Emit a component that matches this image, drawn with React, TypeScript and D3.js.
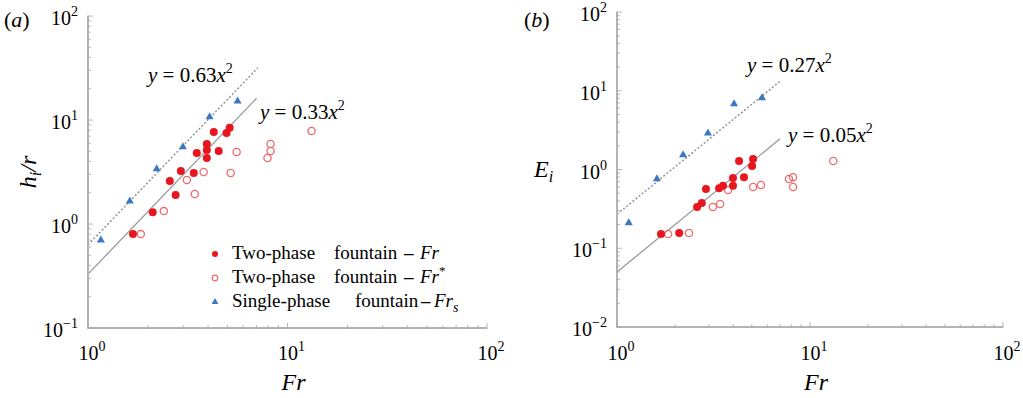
import React from 'react'
import * as d3 from 'd3'

// panel (a): h_i / r against Fr
const frTwoPhaseA = [1.68, 2.11, 2.57, 2.75, 2.92, 3.39, 3.51, 3.94, 3.94, 3.94, 4.27, 4.52, 4.95, 5.13]
const hTwoPhaseA = [0.8, 1.3, 2.59, 1.9, 3.23, 3.09, 4.82, 5.88, 5.15, 4.31, 7.67, 5.03, 7.5, 8.4]
const frStarA = [1.84, 2.4, 3.13, 3.43, 3.8, 5.19, 5.56, 7.94, 8.22, 8.22, 13.2]
const hStarA = [0.8, 1.33, 2.65, 1.94, 3.16, 3.09, 4.92, 4.31, 5.03, 5.88, 7.84]
const frSingleA = [1.16, 1.62, 2.21, 2.99, 4.07, 5.62]
const hSingleA = [0.7, 1.66, 3.38, 5.5, 10.7, 15.2]

// panel (b): E_i against Fr
const frTwoPhaseB = [1.69, 2.1, 2.6, 2.75, 2.89, 3.38, 3.54, 3.99, 3.99, 4.29, 4.55, 5.01, 5.07]
const eTwoPhaseB = [0.152, 0.156, 0.334, 0.376, 0.565, 0.58, 0.62, 0.78, 0.62, 1.28, 0.8, 1.11, 1.36]
const frStarB = [1.84, 2.36, 3.14, 3.42, 3.76, 5.07, 5.57, 7.78, 8.17, 8.17, 13.2]
const eStarB = [0.152, 0.156, 0.334, 0.365, 0.55, 0.6, 0.635, 0.757, 0.8, 0.6, 1.28]
const frSingleB = [1.15, 1.61, 2.2, 2.96, 4.04, 5.64]
const eSingleB = [0.21, 0.76, 1.53, 2.9, 6.79, 8.09]

// fitted power laws y = c x^2
const fitCoefA = [0.63, 0.33]
const fitCoefB = [0.27, 0.05]
const fitEndA = [7.1, 7.0]
const fitEndB = [7.1, 7.0]

const legendLabels = ['Two-phase', 'Two-phase', 'Single-phase']

const RED = '#e8161e'
const RED_OPEN = '#ee6a6a'
const BLUE = '#3a78c4'
const AXIS = '#b4b4b4'
const SERIF = "'Liberation Serif', 'Times New Roman', serif"

const zip = (xs, ys) => xs.map((x, i) => [x, ys[i]])

// every text carries its own family, as attribute and style
function T({ children, ...rest }) {
  return <text fontFamily={SERIF} style={{ fontFamily: SERIF }} {...rest}>{children}</text>
}

function Panel({ x0, x1, y0, y1, yDomain, fitCoef, fitEnd, filled, open, single, eqs, letter, letterX }) {
  const xScale = d3.scaleLog().domain([1, 100]).range([x0, x1])
  const yScale = d3.scaleLog().domain(yDomain).range([y1, y0])
  const line = d3.line().x(d => xScale(d[0])).y(d => yScale(d[1]))
  const tri = d3.symbol().type(d3.symbolTriangle).size(28)()

  const xTicks = xScale.ticks()
  const yTicks = yScale.ticks()
  const isMajor = v => Math.abs(Math.log10(v) - Math.round(Math.log10(v))) < 1e-6
  const exp = v => {
    const e = Math.round(Math.log10(v))
    return e < 0 ? '\u2212' + -e : String(e)
  }

  return (
    <g>
      {/* fit lines */}
      <path d={line([[1, fitCoef[0]], [fitEnd[0], fitCoef[0] * fitEnd[0] ** 2]])}
        stroke='#8c8c8c' strokeWidth={1.4} strokeDasharray='2,2' fill='none' />
      <path d={line([[1, fitCoef[1]], [fitEnd[1], fitCoef[1] * fitEnd[1] ** 2]])}
        stroke='#9a9a9a' strokeWidth={1.3} fill='none' />

      {/* axes */}
      <line x1={x0} x2={x0} y1={y0} y2={y1} stroke={AXIS} strokeWidth={2} />
      <line x1={x0} x2={x1} y1={y1} y2={y1} stroke={AXIS} strokeWidth={2} />
      {yTicks.map((v, i) => (
        <line key={'yt' + i} x1={x0 - 1} x2={x0 + (isMajor(v) ? 5 : 3)}
          y1={yScale(v)} y2={yScale(v)} stroke='#a8a8a8' strokeWidth={0.8} />
      ))}
      {xTicks.map((v, i) => (
        <line key={'xt' + i} x1={xScale(v)} x2={xScale(v)} y1={y1 + 1}
          y2={y1 - (isMajor(v) ? 5 : 3)} stroke='#a8a8a8' strokeWidth={0.8} />
      ))}
      {yTicks.filter(isMajor).map((v, i) => (
        <T key={'yl' + i} x={x0 - 10} y={yScale(v) + 9} textAnchor='end' fontSize={20}>
          10<tspan dy={-9} fontSize={14}>{exp(v)}</tspan>
        </T>
      ))}
      {xTicks.filter(isMajor).map((v, i) => (
        <T key={'xl' + i} x={xScale(v) + 4} y={360} textAnchor='middle' fontSize={20}>
          10<tspan dy={-9} fontSize={14}>{exp(v)}</tspan>
        </T>
      ))}

      {/* data */}
      {open.map((d, i) => (
        <circle key={'o' + i} cx={xScale(d[0])} cy={yScale(d[1])} r={3.6}
          fill='none' stroke={RED_OPEN} strokeWidth={1.3} />
      ))}
      {filled.map((d, i) => (
        <circle key={'f' + i} cx={xScale(d[0])} cy={yScale(d[1])} r={4} fill={RED} />
      ))}
      {single.map((d, i) => (
        <path key={'s' + i} d={tri} transform={`translate(${xScale(d[0])},${yScale(d[1])})`} fill={BLUE} />
      ))}

      {/* equations */}
      {eqs.map((e, i) => (
        <T key={'eq' + i} x={e.x} y={e.y} fontSize={21}>
          <tspan fontStyle='italic'>y</tspan> = {e.c.toFixed(2)}<tspan fontStyle='italic'>x</tspan>
          <tspan dy={-9} fontSize={14}>2</tspan>
        </T>
      ))}

      {/* axis titles */}
      <T x={xScale(10) + 6} y={390} textAnchor='middle' fontSize={24} fontStyle='italic'>Fr</T>
      <T x={letterX} y={27} fontSize={22}>
        (<tspan fontStyle='italic'>{letter}</tspan>)
      </T>
    </g>
  )
}

export default function App() {
  const legendY = [254, 278, 302]
  const suffix = [
    <tspan fontStyle='italic'>Fr</tspan>,
    <tspan fontStyle='italic'>Fr<tspan dy={-8} fontSize={13} fontStyle='normal'>*</tspan></tspan>,
    <tspan fontStyle='italic'>Fr<tspan dy={5} fontSize={14}>s</tspan></tspan>
  ]
  const fountainX = [334, 334, 355]
  const dashX = [404, 404, 421]
  const frX = [420, 420, 434]
  const tri = d3.symbol().type(d3.symbolTriangle).size(20)()
  return (
    <svg width={1023} height={398} style={{ position: 'absolute', left: 0, top: 0, background: '#fff' }}>
      <style>{`text, tspan { font-family: 'Liberation Serif', 'Times New Roman', serif; }`}</style>
      <Panel x0={88} x1={487} y0={16} y1={328} yDomain={[0.1, 100]}
        fitCoef={fitCoefA} fitEnd={fitEndA}
        filled={zip(frTwoPhaseA, hTwoPhaseA)} open={zip(frStarA, hStarA)} single={zip(frSingleA, hSingleA)}
        eqs={[{ x: 148, y: 82, c: fitCoefA[0] }, { x: 260, y: 119, c: fitCoefA[1] }]}
        letter='a' letterX={4} />
      <Panel x0={617} x1={1003} y0={12} y1={327} yDomain={[0.01, 100]}
        fitCoef={fitCoefB} fitEnd={fitEndB}
        filled={zip(frTwoPhaseB, eTwoPhaseB)} open={zip(frStarB, eStarB)} single={zip(frSingleB, eSingleB)}
        eqs={[{ x: 747, y: 72, c: fitCoefB[0] }, { x: 788, y: 142, c: fitCoefB[1] }]}
        letter='b' letterX={524} />

      {/* y-axis titles */}
      <T transform='translate(36,172) rotate(-90)' textAnchor='middle' fontSize={24} fontStyle='italic'>
        h<tspan dy={5} fontSize={16}>i</tspan><tspan dy={-5}>/r</tspan>
      </T>
      <T x={534} y={177} fontSize={24} fontStyle='italic'>
        E<tspan dy={5} fontSize={16}>i</tspan>
      </T>

      {/* legend */}
      <circle cx={215} cy={legendY[0]} r={3} fill={RED} />
      <circle cx={215} cy={legendY[1]} r={2.8} fill='none' stroke={RED_OPEN} strokeWidth={1.2} />
      <path d={tri} transform={`translate(215,${legendY[2]})`} fill={BLUE} />
      {legendLabels.map((l, i) => (
        <g key={'lg' + i} fontSize={19}>
          <T x={232} y={legendY[i] + 5}>{l}</T>
          <T x={fountainX[i]} y={legendY[i] + 5}>fountain</T>
          <T x={dashX[i]} y={legendY[i] + 5} fontWeight='bold'>{'\u2013'}</T>
          <T x={frX[i]} y={legendY[i] + 5}>{suffix[i]}</T>
        </g>
      ))}
    </svg>
  )
}
